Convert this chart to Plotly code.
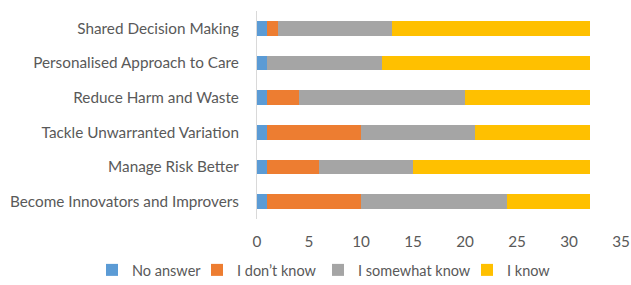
import plotly.graph_objects as go

categories = ["Shared Decision Making", "Personalised Approach to Care", "Reduce Harm and Waste",
              "Tackle Unwarranted Variation", "Manage Risk Better", "Become Innovators and Improvers"]
no_answer = [1, 1, 1, 1, 1, 1]
dont_know = [1, 0, 3, 9, 5, 9]
somewhat_know = [11, 11, 16, 11, 9, 14]
i_know = [19, 20, 12, 11, 17, 8]
series_names = ["No answer", "I don\u2019t know", "I somewhat know", "I know"]
colors = ["#5B9BD5", "#ED7D31", "#A5A5A5", "#FFC000"]
legend_widths = [60, 76, 104, 50]
x_ticks = [0, 5, 10, 15, 20, 25, 30, 35]

fig = go.Figure()
for name, vals, c, lw in zip(series_names, [no_answer, dont_know, somewhat_know, i_know], colors, legend_widths):
    fig.add_trace(go.Bar(y=categories, x=vals, name=name, orientation="h", legendwidth=lw,
                         marker=dict(color=c, line=dict(width=0))))

font = dict(family="Lato, Open Sans, sans-serif", size=15.3, color="#595959")
fig.update_layout(
    barmode="stack", bargap=0.57,
    width=631, height=285,
    margin=dict(l=257, r=10, t=11, b=66, autoexpand=False),
    paper_bgcolor="white", plot_bgcolor="white",
    font=font,
    showlegend=True,
    legend=dict(orientation="h", x=(92 - 257) / 364, xanchor="left",
                y=-0.245, yanchor="middle",
                font=dict(size=14.5, color="#595959"), traceorder="normal",
                itemwidth=30, tracegroupgap=0),
    xaxis=dict(range=[0, 35], tickvals=x_ticks, showgrid=False, zeroline=False,
               showline=False, ticks="", ticklabelstandoff=12, automargin=False),
    yaxis=dict(autorange="reversed", showgrid=False, showline=True, linecolor="#D9D9D9",
               linewidth=1, ticks="", ticklabelstandoff=14, automargin=False),
)
fig.write_html("out.html", config={"displayModeBar": False},
               post_script="document.body.style.margin='0';")
